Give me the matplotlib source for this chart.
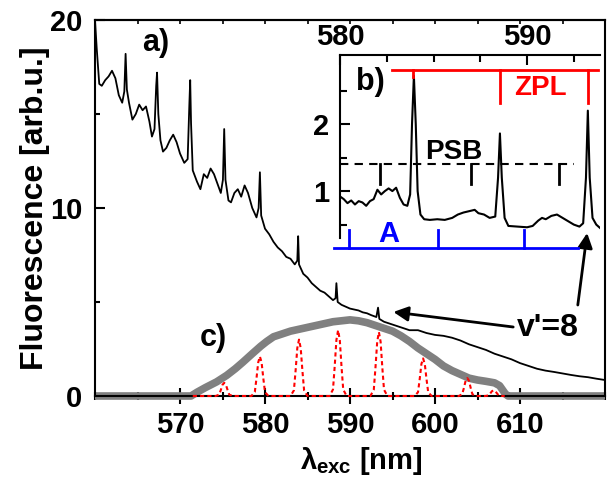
import matplotlib
matplotlib.use("Agg")
import matplotlib.pyplot as plt
from matplotlib.ticker import MultipleLocator, FixedLocator

plt.rcParams['font.family'] = ['Liberation Sans', 'DejaVu Sans']
plt.rcParams['font.weight'] = 'bold'
plt.rcParams['mathtext.fontset'] = 'custom'
plt.rcParams['mathtext.rm'] = 'Liberation Sans:bold'
plt.rcParams['mathtext.it'] = 'Liberation Sans:bold'
plt.rcParams['mathtext.bf'] = 'Liberation Sans:bold'

# a) excitation spectrum
exc_wl = [560.0, 560.2, 560.5, 560.8, 561.2, 561.6, 562.0, 562.4, 562.8, 563.2, 563.45, 563.6, 563.75,
          564.0, 564.4, 564.8, 565.2, 565.6, 566.0, 566.4, 566.7, 567.0, 567.2, 567.3, 567.45, 567.7,
          568.0, 568.4, 568.8, 569.2, 569.6, 570.0, 570.5, 570.9, 571.1, 571.2, 571.3, 571.5, 572.0,
          572.4, 572.8, 573.2, 573.6, 574.0, 574.4, 574.8, 575.05, 575.2, 575.35, 575.7, 576.0, 576.4,
          576.8, 577.2, 577.6, 578.0, 578.5, 579.0, 579.25, 579.4, 579.55, 580.0, 580.5, 581.0, 581.5,
          582.0, 582.5, 583.0, 583.5, 583.8, 583.9, 584.0, 584.5, 585.0, 585.5, 586.0, 586.5, 587.0,
          587.5, 588.0, 588.3, 588.4, 588.55, 589.0, 589.5, 590.0, 590.5, 591.0, 591.5, 592.0, 592.5,
          593.1, 593.3, 593.45, 594.0, 595.0, 596.0, 597.0, 598.0, 599.0, 600.0, 601.0, 602.0, 603.0,
          604.0, 605.0, 606.0, 607.0, 608.0, 609.0, 610.0, 611.0, 612.0, 613.0, 614.0, 615.0, 616.0,
          617.0, 618.0, 619.0, 620.0]
exc_int = [20.0, 18.5, 16.6, 16.5, 16.8, 17.0, 17.3, 16.9, 16.0, 15.6, 16.2, 18.2, 16.3,
           15.6, 14.7, 15.0, 15.5, 15.2, 15.4, 14.6, 13.8, 14.2, 16.5, 17.2, 15.0, 13.6,
           13.0, 13.2, 13.6, 13.9, 13.5, 12.9, 12.4, 12.6, 15.5, 16.8, 14.5, 12.0, 11.4,
           11.0, 11.8, 11.6, 12.1, 11.8, 11.3, 10.8, 11.5, 14.2, 11.5, 10.4, 10.3, 10.8,
           11.0, 10.6, 11.2, 10.8, 10.0, 9.5, 10.0, 11.9, 9.6, 8.9, 8.6, 8.2, 7.9,
           7.7, 7.4, 7.3, 7.0, 7.2, 8.5, 7.0, 6.5, 6.3, 6.0, 5.8, 5.6, 5.5,
           5.3, 5.1, 5.2, 6.0, 5.0, 4.85, 4.75, 4.65, 4.6, 4.55, 4.45, 4.4, 4.3,
           4.2, 4.7, 4.1, 3.95, 3.8, 3.65, 3.5, 3.5, 3.35, 3.25, 3.2, 3.1, 2.95,
           2.75, 2.6, 2.45, 2.25, 2.1, 1.95, 1.75, 1.6, 1.45, 1.35, 1.28, 1.2, 1.12,
           1.05, 1.0, 0.92, 0.85]

# c) laser spectrum (grey) and pulse-train modes (red)
laser_wl = [560.0, 571.3, 572.0, 573.0, 574.3, 575.5, 576.5, 577.4, 578.5, 579.5, 580.2, 581.0, 582.0,
            583.0, 584.0, 585.0, 586.0, 587.0, 588.0, 589.0, 590.0, 591.0, 592.0, 593.0, 594.0, 595.0,
            596.0, 597.0, 598.0, 599.0, 600.0, 601.0, 602.0, 603.0, 604.0, 605.0, 606.0, 607.0, 607.6,
            608.3, 608.6, 620.0]
laser_int = [0.0, 0.0, 0.2, 0.45, 0.75, 1.1, 1.45, 1.8, 2.25, 2.65, 2.9, 3.15, 3.3,
             3.45, 3.55, 3.65, 3.75, 3.85, 3.95, 4.0, 4.05, 4.0, 3.9, 3.75, 3.6, 3.45,
             3.2, 2.9, 2.55, 2.25, 1.95, 1.6, 1.35, 1.15, 0.95, 0.85, 0.78, 0.7, 0.55,
             0.1, 0.0, 0.0]
mode_centers = [575.2, 579.4, 584.0, 588.6, 593.4, 598.6, 603.8, 606.9]
mode_heights = [0.7, 2.1, 3.0, 3.5, 3.4, 2.0, 0.95, 0.3]
mode_offsets = [-1.0, -0.6, -0.4, -0.2, 0.0, 0.2, 0.4, 0.6, 1.0]
mode_shape = [0.0, 0.1, 0.45, 0.85, 1.0, 0.85, 0.45, 0.1, 0.0]

# b) zoomed excitation spectrum
zoom_wl = [580.0, 580.2, 580.4, 580.6, 580.8, 581.0, 581.2, 581.4, 581.6, 581.8, 582.0, 582.2, 582.4,
           582.6, 582.8, 583.0, 583.2, 583.4, 583.6, 583.75, 583.85, 583.95, 584.05, 584.15, 584.3,
           584.5, 584.8, 585.2, 585.6, 586.0, 586.3, 586.6, 586.9, 587.2, 587.4, 587.7, 588.0, 588.3,
           588.45, 588.55, 588.65, 588.8, 589.0, 589.5, 590.0, 590.3, 590.6, 590.8, 591.0, 591.3,
           591.6, 591.9, 592.2, 592.5, 592.8, 593.0, 593.15, 593.25, 593.35, 593.5, 593.7, 593.9]
zoom_int = [0.92, 0.88, 0.82, 0.86, 0.80, 0.85, 0.83, 0.78, 0.85, 0.88, 1.02, 0.95, 1.0,
            1.04, 1.0, 1.05, 0.9, 0.8, 0.78, 0.95, 2.0, 2.72, 2.0, 1.0, 0.65,
            0.58, 0.57, 0.58, 0.57, 0.6, 0.65, 0.68, 0.70, 0.72, 0.67, 0.65, 0.6, 0.62,
            1.2, 1.86, 1.2, 0.6, 0.48, 0.47, 0.46, 0.48, 0.56, 0.60, 0.58, 0.63,
            0.65, 0.60, 0.55, 0.50, 0.47, 0.52, 1.2, 2.2, 1.2, 0.6, 0.5, 0.45]

zpl_pos = [583.9, 588.56, 593.26]
zpl_drop = [0.1, 0.48, 0.48]
psb_pos = [582.14, 587.0, 591.7]
a_pos = [580.5, 585.25, 589.85]

fig = plt.figure(figsize=(6.07, 4.79), dpi=100)
ax = fig.add_axes([95 / 607, 1 - 396 / 479, 510 / 607, 376 / 479])

ax.plot(exc_wl, exc_int, color='k', lw=1.3, zorder=3)
wl_modes, int_modes = [], []
for c, h in zip(mode_centers, mode_heights):
    wl_modes += [c + o for o in mode_offsets]
    int_modes += [h * s for s in mode_shape]
ax.plot([571.5] + wl_modes + [608.2], [0] + int_modes + [0], color='red', lw=1.5,
        ls=(0, (2, 1.5)), zorder=4, clip_on=False)
ax.plot(laser_wl, laser_int, color='#808080', lw=5.5, zorder=2, clip_on=False,
        solid_capstyle='butt')

ax.set_xlim(560, 620)
ax.set_ylim(0, 20)
ax.xaxis.set_major_locator(FixedLocator([570, 580, 590, 600, 610]))
ax.xaxis.set_minor_locator(MultipleLocator(5))
ax.yaxis.set_major_locator(MultipleLocator(10))
ax.yaxis.set_minor_locator(MultipleLocator(5))
ax.tick_params(axis='x', which='major', direction='inout', length=12, width=1.5,
               labelsize=21, pad=5)
ax.tick_params(axis='x', which='minor', direction='inout', length=6, width=1.5)
ax.tick_params(axis='y', which='major', direction='in', length=7, width=1.5,
               labelsize=21, pad=9)
ax.tick_params(axis='y', which='minor', direction='in', length=3.5, width=1.5)
for s in ax.spines.values():
    s.set_linewidth(1.5)
top = ax.secondary_xaxis('top')
top.xaxis.set_major_locator(MultipleLocator(5))
top.tick_params(direction='in', length=3, width=1.2, labeltop=False)
top.spines['top'].set_linewidth(1.5)

ax.set_ylabel('Fluorescence [arb.u.]', fontsize=23, fontweight='bold')
ax.yaxis.set_label_coords(-0.088, 0.5)
ax.set_xlabel(r'$\lambda_{exc}$ [nm]', fontsize=21, fontweight='bold')
ax.xaxis.set_label_coords(0.523, -0.13)

ax.text(567.1, 18.8, 'a)', fontsize=22, fontweight='bold', ha='center', va='center')
ax.text(573.9, 3.1, 'c)', fontsize=22, fontweight='bold', ha='center', va='center')
ax.text(613.3, 3.6, "v'=8", fontsize=23, fontweight='bold', ha='center', va='center')
arrow = dict(arrowstyle='-|>', lw=2, color='k', mutation_scale=22, shrinkA=0, shrinkB=0)
ax.annotate('', xy=(595.1, 4.47), xytext=(609.2, 3.67), arrowprops=arrow,
            annotation_clip=False)
ax.annotate('', xy=(617.9, 8.67), xytext=(616.8, 4.84), arrowprops=arrow,
            annotation_clip=False)

# inset
ins = fig.add_axes([340 / 607, 1 - 238 / 479, 260 / 607, 183 / 479])
ins.patch.set_alpha(0)
ins.plot(zoom_wl, zoom_int, color='k', lw=1.5)
ins.set_xlim(580, 593.9)
ins.set_ylim(0.3, 3.03)
for side in ('right', 'bottom'):
    ins.spines[side].set_visible(False)
for side in ('left', 'top'):
    ins.spines[side].set_linewidth(1.5)
ins.xaxis.tick_top()
ins.xaxis.set_major_locator(MultipleLocator(10))
ins.xaxis.set_minor_locator(MultipleLocator(2.5))
ins.yaxis.set_major_locator(FixedLocator([1, 2]))
ins.yaxis.set_minor_locator(FixedLocator([0.5, 1.5, 2.5]))
ins.tick_params(which='major', direction='in', length=7, width=1.5, labelsize=21)
ins.tick_params(which='minor', direction='in', length=5, width=1.5)
ins.tick_params(axis='x', pad=3)
ins.tick_params(axis='y', pad=8)

# ZPL comb
ins.plot([582.8, 593.8], [2.8, 2.8], color='red', lw=2, clip_on=False)
for p, d in zip(zpl_pos, zpl_drop):
    ins.plot([p, p], [2.8, 2.8 - d], color='red', lw=2, clip_on=False)
ins.text(590.7, 2.54, 'ZPL', color='red', fontsize=20, fontweight='bold', ha='center', va='center')
# PSB comb
ins.plot([580, 592.5], [1.4, 1.4], color='k', lw=1.5, ls=(0, (4, 3)), clip_on=False)
for p in psb_pos:
    ins.plot([p, p], [1.4, 1.1], color='k', lw=2, clip_on=False)
ins.text(586.1, 1.58, 'PSB', color='k', fontsize=20, fontweight='bold', ha='center', va='center')
# A comb
ins.plot([579.7, 592.7], [0.15, 0.15], color='blue', lw=2, clip_on=False)
for p in a_pos:
    ins.plot([p, p], [0.15, 0.42], color='blue', lw=2, clip_on=False)
ins.text(582.6, 0.36, 'A', color='blue', fontsize=21, fontweight='bold', ha='center', va='center')
ins.text(581.6, 2.63, 'b)', fontsize=22, fontweight='bold', ha='center', va='center')

fig.savefig('out.png', dpi=100)
